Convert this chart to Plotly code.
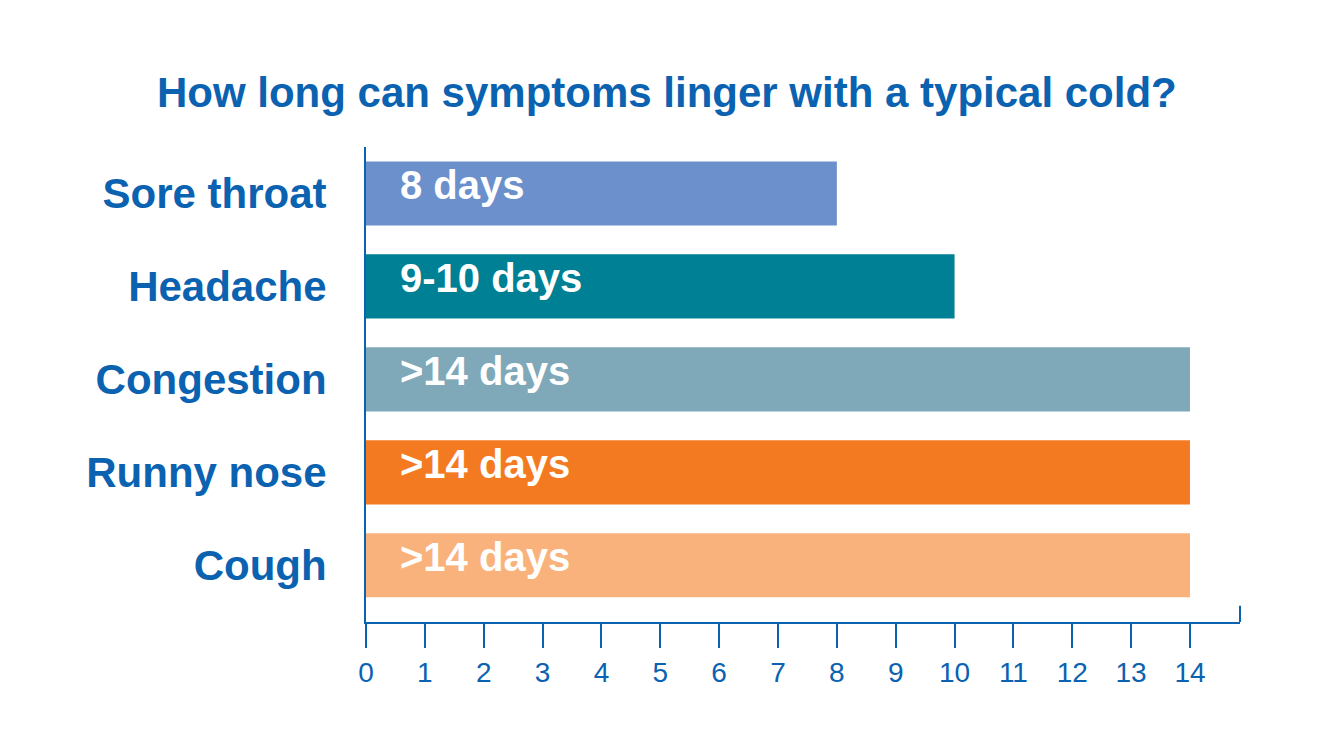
import plotly.graph_objects as go

# symptoms from bottom to top
symptoms = ["Cough", "Runny nose", "Congestion", "Headache", "Sore throat"]
days = [14, 14, 14, 10, 8]
labels = [">14 days", ">14 days", ">14 days", "9-10 days", "8 days"]
colors = ["#fab27c", "#f47a21", "#7fa8b8", "#008094", "#6b90cb"]
tick_vals = list(range(0, 15))

blue = "#0a62b0"

fig = go.Figure()

fig.add_trace(
    go.Bar(
        x=days,
        y=symptoms,
        orientation="h",
        marker=dict(color=colors, line=dict(width=0)),
        width=0.69,
        hoverinfo="skip",
    )
)

# labels sit just inside the left end of each bar
for s, lab in zip(symptoms, labels):
    fig.add_annotation(
        x=0,
        y=s,
        text=lab,
        showarrow=False,
        xanchor="left",
        xshift=32,
        yshift=8,
        font=dict(family="Liberation Sans, Arial", size=40, color="white", weight="bold"),
    )

# small upward tick closing the x axis on the right
fig.add_shape(
    type="line",
    xref="paper",
    yref="paper",
    x0=1,
    x1=1,
    y0=0,
    y1=0.034,
    line=dict(color=blue, width=2),
)

fig.update_layout(
    width=1331,
    height=750,
    paper_bgcolor="white",
    plot_bgcolor="white",
    showlegend=False,
    margin=dict(l=358, r=99, t=139, b=136),
    title=dict(
        text="How long can symptoms linger with a typical cold?",
        x=0.495,
        xanchor="center",
        y=0.888,
        yanchor="middle",
        font=dict(family="Liberation Sans, Arial", size=42, color=blue, weight="bold"),
    ),
    xaxis=dict(
        range=[0, 14.85],
        tickmode="array",
        tickvals=tick_vals,
        ticks="outside",
        ticklen=24,
        tickwidth=2,
        tickcolor=blue,
        showline=True,
        linecolor=blue,
        linewidth=2,
        showgrid=False,
        zeroline=False,
        automargin=False,
        tickfont=dict(family="Liberation Sans Narrow, Arial Narrow, Liberation Sans", size=28, color=blue),
    ),
    yaxis=dict(
        range=[-0.61, 4.5],
        showline=True,
        linecolor=blue,
        linewidth=2,
        showgrid=False,
        ticks="",
        automargin=False,
        ticklabelstandoff=29,
        tickfont=dict(family="Liberation Sans, Arial", size=42, color=blue, weight="bold"),
    ),
)

fig.write_html("out.html")
